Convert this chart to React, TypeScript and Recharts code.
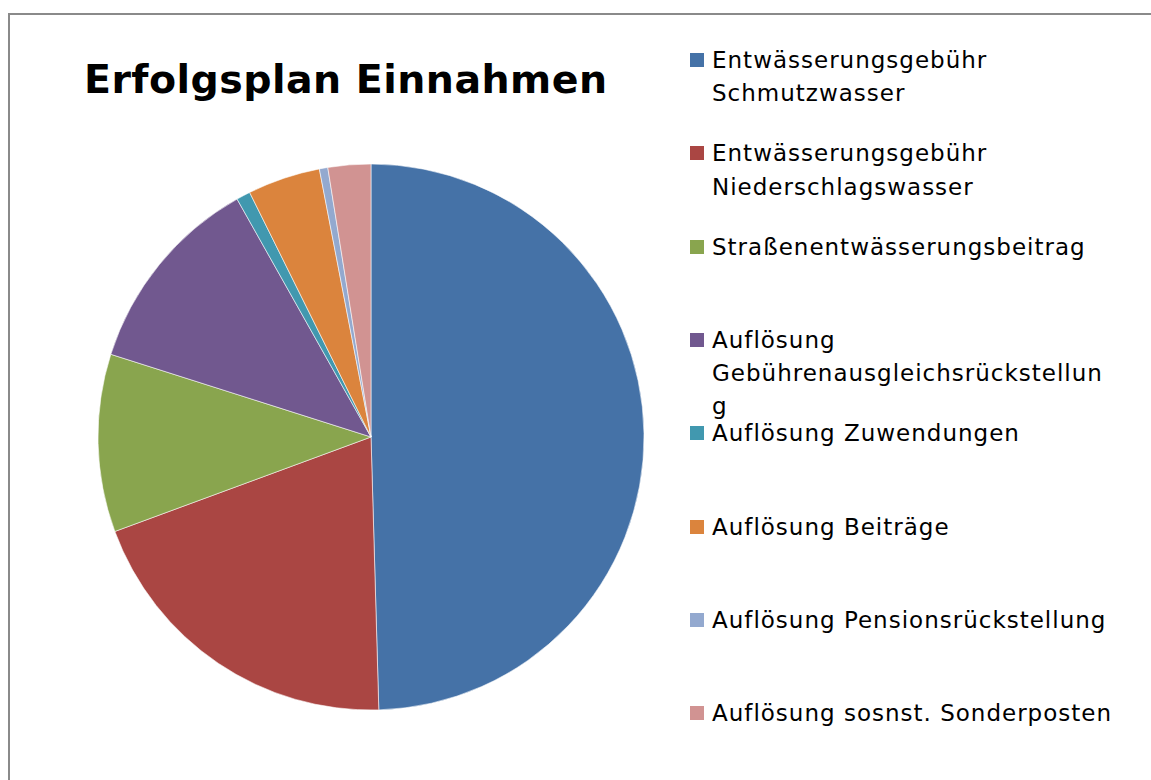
import React from "react";
import { PieChart, Pie, Cell, Legend } from "recharts";

const categories = [
  "Entwässerungsgebühr Schmutzwasser",
  "Entwässerungsgebühr Niederschlagswasser",
  "Straßenentwässerungsbeitrag",
  "Auflösung Gebührenausgleichsrückstellung",
  "Auflösung Zuwendungen",
  "Auflösung Beiträge",
  "Auflösung Pensionsrückstellung",
  "Auflösung sosnst. Sonderposten",
];

const shares = [49.54, 19.83, 10.52, 11.94, 0.83, 4.3, 0.5, 2.53];

const colors = [
  "#4572A7",
  "#AA4643",
  "#89A54E",
  "#71588F",
  "#4198AF",
  "#DB843D",
  "#93A9CF",
  "#D19392",
];

const title = "Erfolgsplan Einnahmen";

const data = categories.map((name, i) => ({ name, value: shares[i] }));

const FONT = "'DejaVu Sans', 'Open Sans', sans-serif";

const renderLegend = () => {
  return (
    <div style={{ position: "relative", width: 430 }}>
      {categories.map((name, i) => (
        <div
          key={name}
          style={{
            position: "absolute",
            left: 0,
            top: i * 93.3,
            height: 93.3,
            width: 430,
            overflow: "visible",
          }}
        >
          <div
            style={{
              position: "absolute",
              left: 0,
              top: 9,
              width: 14,
              height: 14,
              background: colors[i],
            }}
          />
          <div
            style={{
              position: "absolute",
              left: 22,
              top: 0,
              width: 400,
              fontFamily: FONT,
              fontSize: 23,
              letterSpacing: 1.0,
              lineHeight: "33.3px",
              color: "#000",
              overflowWrap: "anywhere",
              wordBreak: "normal",
            }}
          >
            {name}
          </div>
        </div>
      ))}
    </div>
  );
};

export default function App() {
  return (
    <div
      style={{
        position: "absolute",
        left: 0,
        top: 0,
        width: 1151,
        height: 780,
        background: "#fff",
        overflow: "hidden",
      }}
    >
      <div
        style={{
          position: "absolute",
          left: 8,
          top: 13,
          width: 1143,
          height: 2,
          background: "#8a8a8a",
        }}
      />
      <div
        style={{
          position: "absolute",
          left: 8,
          top: 13,
          width: 2,
          height: 767,
          background: "#8a8a8a",
        }}
      />
      <div
        style={{
          position: "absolute",
          left: 84,
          top: 60,
          fontFamily: FONT,
          fontWeight: "bold",
          fontSize: 39.5,
          letterSpacing: 0.45,
          lineHeight: "39.5px",
          color: "#000",
          whiteSpace: "nowrap",
        }}
      >
        {title}
      </div>
      <div style={{ position: "absolute", left: 0, top: 0 }}>
        <PieChart
          width={1151}
          height={780}
          margin={{ top: 0, right: 0, bottom: 0, left: 0 }}
        >
          <Pie
            data={data}
            dataKey="value"
            nameKey="name"
            cx={371}
            cy={437}
            outerRadius={273}
            startAngle={90}
            endAngle={-270}
            stroke="#ffffff"
            strokeWidth={0.8}
            strokeOpacity={0.7}
            isAnimationActive={false}
            label={false}
            labelLine={false}
          >
            {data.map((d, i) => (
              <Cell key={d.name} fill={colors[i]} />
            ))}
          </Pie>
          <Legend
            layout="vertical"
            align="right"
            verticalAlign="top"
            content={renderLegend}
            wrapperStyle={{ position: "absolute", left: 690, top: 44, width: 430 }}
          />
        </PieChart>
      </div>
    </div>
  );
}
